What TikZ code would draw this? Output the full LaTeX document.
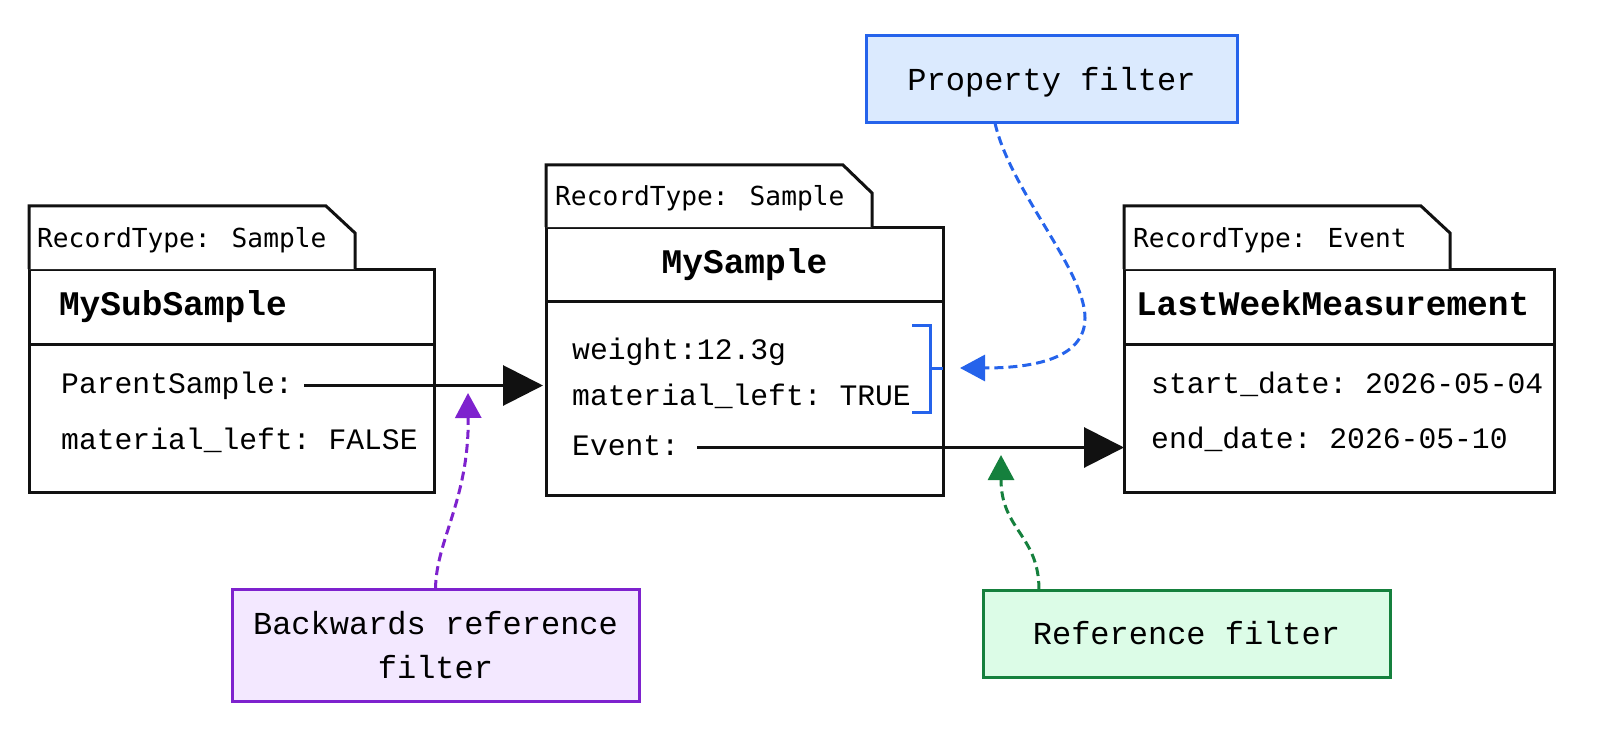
\documentclass[tikz,border=0pt]{standalone}
\usepackage{fontspec}
\setmonofont{Liberation Mono}
\newfontfamily\tabfont{DejaVu Sans Mono}
\usepackage{tikz}
\usetikzlibrary{
  arrows.meta,
  positioning,
  calc
}
\definecolor{recInk}{HTML}{111111}
\definecolor{propLine}{HTML}{2563EB}
\definecolor{propFill}{HTML}{DBEAFE}
\definecolor{backLine}{HTML}{7E22CE}
\definecolor{backFill}{HTML}{F3E8FF}
\definecolor{refLine}{HTML}{15803D}
\definecolor{refFill}{HTML}{DCFCE7}
\tikzset{
  recline/.style={draw=recInk, line width=3pt, outer sep=0pt},
  rechead/.style={
    recline, fill=white, minimum height=75pt, inner sep=0pt,
    text height=25.5pt, text depth=7.5pt,
    font=\ttfamily\bfseries\fontsize{34.5}{41}\selectfont
  },
  recbody/.style={recline, fill=white, inner sep=0pt},
  tabtext/.style={font=\tabfont\fontsize{26.2}{32}\selectfont, inner sep=0pt, anchor=base west},
  attr/.style={
    font=\ttfamily\fontsize{29.7}{36}\selectfont, inner sep=0pt,
    text height=21pt, text depth=6pt, anchor=base west
  },
  propmark/.style={draw=propLine, line width=3pt},
  filterbox/.style={line width=3pt, inner sep=0pt, outer sep=0pt, align=center, font=\ttfamily\fontsize{32}{43.4}\selectfont},
  propfilter/.style={filterbox, draw=propLine, fill=propFill, minimum width=371pt, minimum height=87pt, text height=28pt, text depth=6pt},
  backfilter/.style={filterbox, draw=backLine, fill=backFill, minimum width=407pt, minimum height=112pt},
  reffilter/.style={filterbox, draw=refLine, fill=refFill, minimum width=407pt, minimum height=87pt, text height=28pt, text depth=6pt},
  link/.style={draw=recInk, line width=3pt, -{Triangle[length=40pt,width=40pt]}},
  filterflow/.style={line width=3pt, dash pattern=on 9pt off 5pt, -{Triangle[length=25pt,width=26pt]}},
  propflow/.style={filterflow, draw=propLine},
  backflow/.style={filterflow, draw=backLine},
  refflow/.style={filterflow, draw=refLine}
}

\begin{document}
\begin{tikzpicture}[x=1pt, y=-1pt, node distance=0pt]
  \useasboundingbox[fill=white] (0,0) rectangle (1600,738);

  \node[rechead, text width=345pt, inner xsep=30pt, align=left, anchor=north west] (subhead) at (29,269) {MySubSample};
  \node[recbody, minimum width=405pt, minimum height=148pt, below=of subhead] (subbody) {};
  \draw[recline, fill=white] (subhead.north west) -- ++(0,-63) -- ++(297,0) -- ++(29,27) -- ++(0,36);
  \node[tabtext] (subtab) at (37,247) {RecordType: Sample};
  \node[attr] (parent) at (61,393) {ParentSample:};
  \node[attr] (subleft) at (61,449) {material\_left: FALSE};

  \node[rechead, minimum width=397pt, minimum height=74pt, anchor=north west] (mainhead) at (546,227) {MySample};
  \node[recbody, minimum width=397pt, minimum height=194pt, below=of mainhead] (mainbody) {};
  \draw[recline, fill=white] (mainhead.north west) -- ++(0,-62) -- ++(297,0) -- ++(29,28) -- ++(0,34);
  \node[tabtext] (maintab) at (555,205) {RecordType: Sample};
  \node[attr] (weight) at (572,359) {weight:12.3g};
  \node[attr] (mainleft) at (572,405) {material\_left: TRUE};
  \node[attr] (event) at (572,455) {Event:};
  \draw[propmark] (912,325) -| (930,412) -- (912,412);
  \draw[propmark] (930,368) -- (943,368) coordinate (brk);

  \node[rechead, text width=406pt, inner xsep=12pt, align=left, anchor=north west] (evhead) at (1124,269) {LastWeekMeasurement};
  \node[recbody, minimum width=430pt, minimum height=148pt, below=of evhead] (evbody) {};
  \draw[recline, fill=white] (evhead.north west) -- ++(0,-63) -- ++(297,0) -- ++(29,27) -- ++(0,36);
  \node[tabtext] (evtab) at (1133,247) {RecordType: Event};
  \node[attr] (startdate) at (1151,393) {start\_date: 2026-05-04};
  \node[attr] (enddate) at (1151,448) {end\_date: 2026-05-10};

  \draw[link, shorten >=3pt] ([xshift=11pt]parent.east) -- (parent.east -| mainbody.west);
  \draw[link] ([xshift=18pt]event.east) -- (event.east -| evbody.west);

  \node[propfilter] (propf) at (1051.5,79.5) {Property filter};
  \node[backfilter] (backf) at (435.5,645) {Backwards reference\\filter};
  \node[reffilter] (reff) at (1186.5,633.5) {Reference filter};

  \coordinate (backtip) at (468,393);
  \coordinate (reftip) at (1001,455);
  \draw[propflow] ([xshift=-56.5pt]propf.south) .. controls (1010,190) and (1085,270) .. (1085,318) .. controls (1085,360) and (1030,368) .. ([xshift=17pt]brk);
  \draw[backflow] (backf.north) .. controls (436,540) and (469,500) .. (backtip);
  \draw[refflow] ([xshift=56pt]reff.north west) .. controls (1039,535) and (1001,530) .. (reftip);
\end{tikzpicture}
\end{document}
